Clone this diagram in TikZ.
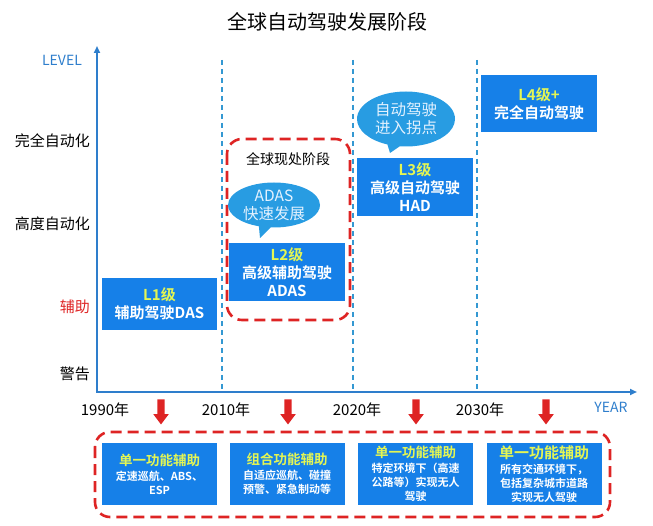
\documentclass[tikz,border=0pt]{standalone}
\usepackage{fontspec}
\setmainfont{Noto Sans CJK SC}[BoldFont={Noto Sans CJK SC Bold}]
\usetikzlibrary{arrows.meta,shapes.callouts,shapes.arrows}
\definecolor{B}{RGB}{22, 128, 232}
\definecolor{C}{RGB}{40, 156, 226}
\definecolor{A}{RGB}{46, 126, 204}
\definecolor{G}{RGB}{52, 152, 210}
\definecolor{R}{RGB}{222, 36, 36}
\definecolor{Y}{RGB}{228, 246, 84}
\definecolor{W}{RGB}{228, 242, 255}
\tikzset{
  eje/.style={draw=A, line width=2pt},
  guia/.style={draw=G, line width=2pt, dash pattern=on 5pt off 4pt},
  marco/.style={draw=R, line width=2.6pt, dash pattern=on 11pt off 6pt, rounded corners=15pt},
  caja/.style={fill=B, text=white, align=center, inner sep=0pt, minimum width=116pt,
    font=\bfseries\fontsize{15}{18}\selectfont},
  cajita/.style={fill=B, text=white, align=center, inner sep=0pt, minimum width=115pt,
    minimum height=62pt, font=\bfseries\fontsize{11}{14}\selectfont},
  burbuja/.style={ellipse callout, fill=C, text=W, align=center, inner sep=0pt,
    font=\fontsize{15.5}{18}\selectfont},
  nivel/.style={anchor=east, inner sep=0pt, font=\fontsize{15}{18}\selectfont},
  anio/.style={inner sep=0pt, font=\fontsize{15}{18}\selectfont},
  flecha/.style={single arrow, fill=R, draw=none, rotate=-90, inner sep=3.5pt,
    minimum height=25pt, single arrow head extend=4pt, single arrow tip angle=74}
}
\begin{document}
\begin{tikzpicture}[x=1pt,y=-1pt]
  \useasboundingbox (0,0) rectangle (653,526);
  \node[font=\fontsize{20}{24}\selectfont] (titulo) at (327,22) {全球自动驾驶发展阶段};

  %Ejes
  \coordinate (O) at (97,392);
  \coordinate (ytop) at (97,46);
  \coordinate (xend) at (637,392);
  \draw[eje, {Triangle[length=7pt,width=6pt]}-{Triangle[length=7pt,width=6pt]}] (ytop) -- (O) -- (xend);
  \node[inner sep=0pt, text=A, font=\fontsize{14}{16}\selectfont] (level) at (62,60) {LEVEL};
  \node[inner sep=0pt, text=A, font=\fontsize{14}{16}\selectfont] (year) at (611,407) {YEAR};

  %Niveles
  \node[nivel] (n4) at (90,141) {完全自动化};
  \node[nivel] (n3) at (90,224) {高度自动化};
  \node[nivel, text=R] (n2) at (90,307) {辅助};
  \node[nivel] (n1) at (90,374) {警告};

  %Lineas de los periodos
  \foreach \x in {222,353,477}
    \draw[guia] (\x,60) -- (\x,391);

  %Anios
  \node[anio] (a1) at (105,410) {1990年};
  \node[anio] (a2) at (226,410) {2010年};
  \node[anio] (a3) at (357,410) {2020年};
  \node[anio] (a4) at (480,410) {2030年};

  %Flechas rojas
  \node[flecha] (f1) at (161,409.5) {};
  \node[flecha] (f2) at (288,409.5) {};
  \node[flecha] (f3) at (416,409.5) {};
  \node[flecha] (f4) at (546,409.5) {};

  %Marco de la etapa actual
  \draw[marco] (227,139) rectangle (350,320);
  \node[inner sep=0pt, font=\fontsize{14}{16}\selectfont] (actual) at (288,159) {全球现处阶段};

  %Burbujas
  \node[burbuja, minimum width=92pt, minimum height=45pt,
    callout absolute pointer={(260,238)}] (adas) at (274,205) {ADAS\\快速发展};
  \node[burbuja, minimum width=98pt, minimum height=55pt,
    callout absolute pointer={(390,153)}] (punto) at (406,119) {自动驾驶\\进入拐点};

  %Cajas de niveles
  \node[caja, minimum width=115pt, minimum height=52pt] (L1) at (159.5,304)
    {\textcolor{Y}{L1级}\\辅助驾驶DAS};
  \node[caja, minimum height=58pt] (L2) at (287,272)
    {\textcolor{Y}{L2级}\\高级辅助驾驶\\ADAS};
  \node[caja, minimum height=58pt] (L3) at (415,187)
    {\textcolor{Y}{L3级}\\高级自动驾驶\\HAD};
  \node[caja, minimum height=57pt] (L4) at (539,103.5)
    {\textcolor{Y}{L4级+}\\完全自动驾驶};

  %Marco inferior
  \draw[marco] (95,432) rectangle (610,517);

  %Cajas de funciones
  \node[cajita] (b1) at (159.5,474)
    {{\fontsize{13.5}{16}\selectfont\textcolor{Y}{单一功能辅助}}\\[1pt]定速巡航、ABS、\\ESP};
  \node[cajita] (b2) at (287,474)
    {{\fontsize{13.5}{16}\selectfont\textcolor{Y}{组合功能辅助}}\\[1pt]自适应巡航、碰撞\\预警、紧急制动等};
  \node[cajita] (b3) at (415.5,474)
    {{\fontsize{13.5}{16}\selectfont\textcolor{Y}{单一功能辅助}}\\[1pt]特定环境下（高速\\公路等）实现无人\\驾驶};
  \node[cajita] (b4) at (544,474)
    {{\fontsize{15}{17}\selectfont\textcolor{Y}{单一功能辅助}}\\[1pt]所有交通环境下，\\包括复杂城市道路\\实现无人驾驶};
\end{tikzpicture}
\end{document}
